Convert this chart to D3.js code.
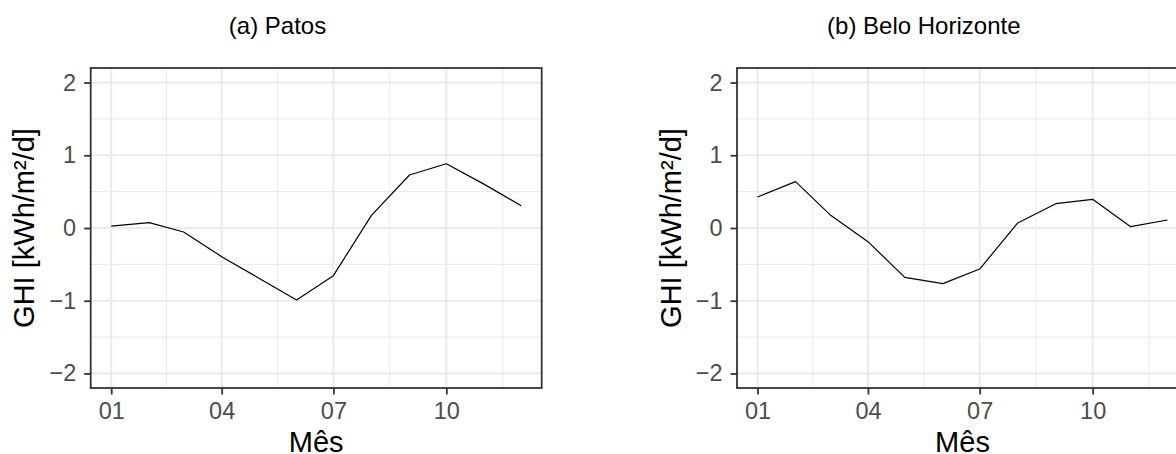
<!DOCTYPE html>
<html>
<head>
<meta charset="utf-8">
<script src="https://cdn.jsdelivr.net/npm/d3@7"></script>
<style>
  html, body { margin: 0; padding: 0; background: #ffffff; overflow: hidden; }
  svg { display: block; }
</style>
</head>
<body>
<svg id="chart" width="1176" height="454"></svg>
<script>
// ---------- data ----------
const months = ["2001-01-01","2001-02-01","2001-03-01","2001-04-01","2001-05-01","2001-06-01",
                "2001-07-01","2001-08-01","2001-09-01","2001-10-01","2001-11-01","2001-12-01"];
const patosGHI = [0.027, 0.073, -0.055, -0.394, -0.687, -0.99, -0.655, 0.174, 0.729, 0.884, 0.60, 0.307];
const beloHorizonteGHI = [0.426, 0.637, 0.183, -0.188, -0.678, -0.765, -0.564, 0.069, 0.334, 0.394, 0.018, 0.11];
const panelTitles = ["(a) Patos", "(b) Belo Horizonte"];
const xTickDates = ["2001-01-01","2001-04-01","2001-07-01","2001-10-01"];
const yTicks = [-2, -1, 0, 1, 2];
const yMinorTicks = [-1.5, -0.5, 0.5, 1.5];
const yLimits = [-2, 2];
const xTitle = "Mês";
const yTitle = "GHI [kWh/m²/d]";

// ---------- layout ----------
const svg = d3.select("#chart");
const FONT = "'Liberation Sans', Arial, Helvetica, sans-serif";
const panelW = 451, panelTop = 68, panelBottom = 388;
const panelLefts = [90.7, 737.0];
const parse = d3.utcParse("%Y-%m-%d");
const dates = months.map(parse);
const majorDates = xTickDates.map(parse);
const series = [patosGHI, beloHorizonteGHI];

// 5% expansion like ggplot
const t0 = dates[0].getTime(), t1 = dates[dates.length - 1].getTime();
const padT = (t1 - t0) * 0.05;
const yPad = (yLimits[1] - yLimits[0]) * 0.05;

// minor x breaks: midpoints between consecutive major breaks (incl. next year's Jan)
const majorExt = majorDates.map(d => d.getTime());
majorExt.push(parse("2002-01-01").getTime());
const xMinor = [];
for (let i = 0; i < majorExt.length - 1; i++) xMinor.push(new Date((majorExt[i] + majorExt[i + 1]) / 2));

series.forEach((vals, p) => {
  const left = panelLefts[p];
  const x = d3.scaleUtc()
    .domain([new Date(t0 - padT), new Date(t1 + padT)])
    .range([left, left + panelW]);
  const y = d3.scaleLinear()
    .domain([yLimits[0] - yPad, yLimits[1] + yPad])
    .range([panelBottom, panelTop]);

  const g = svg.append("g");

  g.append("rect").attr("x", left).attr("y", panelTop)
    .attr("width", panelW).attr("height", panelBottom - panelTop)
    .attr("fill", "#ffffff");

  // minor grid
  g.selectAll(".ymin").data(yMinorTicks).join("line")
    .attr("x1", left).attr("x2", left + panelW)
    .attr("y1", d => y(d)).attr("y2", d => y(d))
    .attr("stroke", "#EBEBEB").attr("stroke-width", 1.1);
  g.selectAll(".xmin").data(xMinor.filter(d => d >= x.domain()[0] && d <= x.domain()[1])).join("line")
    .attr("x1", d => x(d)).attr("x2", d => x(d))
    .attr("y1", panelTop).attr("y2", panelBottom)
    .attr("stroke", "#EBEBEB").attr("stroke-width", 1.1);
  // major grid
  g.selectAll(".ymaj").data(yTicks).join("line")
    .attr("x1", left).attr("x2", left + panelW)
    .attr("y1", d => y(d)).attr("y2", d => y(d))
    .attr("stroke", "#EBEBEB").attr("stroke-width", 2.2);
  g.selectAll(".xmaj").data(majorDates).join("line")
    .attr("x1", d => x(d)).attr("x2", d => x(d))
    .attr("y1", panelTop).attr("y2", panelBottom)
    .attr("stroke", "#EBEBEB").attr("stroke-width", 2.2);

  // line
  const line = d3.line().x((d, i) => x(dates[i])).y(d => y(d));
  g.append("path").datum(vals)
    .attr("d", line)
    .attr("fill", "none").attr("stroke", "#000000").attr("stroke-width", 1.2)
    .attr("stroke-linejoin", "round");

  // panel border
  g.append("rect").attr("x", left).attr("y", panelTop)
    .attr("width", panelW).attr("height", panelBottom - panelTop)
    .attr("fill", "none").attr("stroke", "#333333").attr("stroke-width", 1.8);

  // axes
  const xAxis = d3.axisBottom(x).tickValues(majorDates)
    .tickFormat(d3.utcFormat("%m")).tickSize(6.5).tickSizeOuter(0).tickPadding(7.5);
  const gx = g.append("g").attr("transform", `translate(0,${panelBottom})`).call(xAxis);
  gx.select(".domain").remove();
  gx.selectAll(".tick line").attr("stroke", "#333333").attr("stroke-width", 1.8);
  gx.selectAll(".tick text").attr("fill", "#4D4D4D")
    .style("font-family", FONT).style("font-size", "23.5px");

  const yAxis = d3.axisLeft(y).tickValues(yTicks)
    .tickFormat(d => d < 0 ? "\u2212" + Math.abs(d) : String(d))
    .tickSize(6.5).tickSizeOuter(0).tickPadding(8);
  const gy = g.append("g").attr("transform", `translate(${left},0)`).call(yAxis);
  gy.select(".domain").remove();
  gy.selectAll(".tick line").attr("stroke", "#333333").attr("stroke-width", 1.8);
  gy.selectAll(".tick text").attr("fill", "#4D4D4D")
    .style("font-family", FONT).style("font-size", "23.5px");

  // titles
  svg.append("text")
    .attr("x", 277.5 + (left - panelLefts[0])).attr("y", 34)
    .attr("text-anchor", "middle")
    .style("font-family", FONT).style("font-size", "24px").attr("fill", "#000000")
    .text(panelTitles[p]);

  svg.append("text")
    .attr("x", left + panelW / 2).attr("y", 452)
    .attr("text-anchor", "middle")
    .style("font-family", FONT).style("font-size", "29px").attr("fill", "#000000")
    .text(xTitle);

  svg.append("text")
    .attr("transform", `translate(${left - 56.5},${(panelTop + panelBottom) / 2}) rotate(-90)`)
    .attr("text-anchor", "middle")
    .style("font-family", FONT).style("font-size", "29px").attr("fill", "#000000")
    .text(yTitle);
});
</script>
</body>
</html>
